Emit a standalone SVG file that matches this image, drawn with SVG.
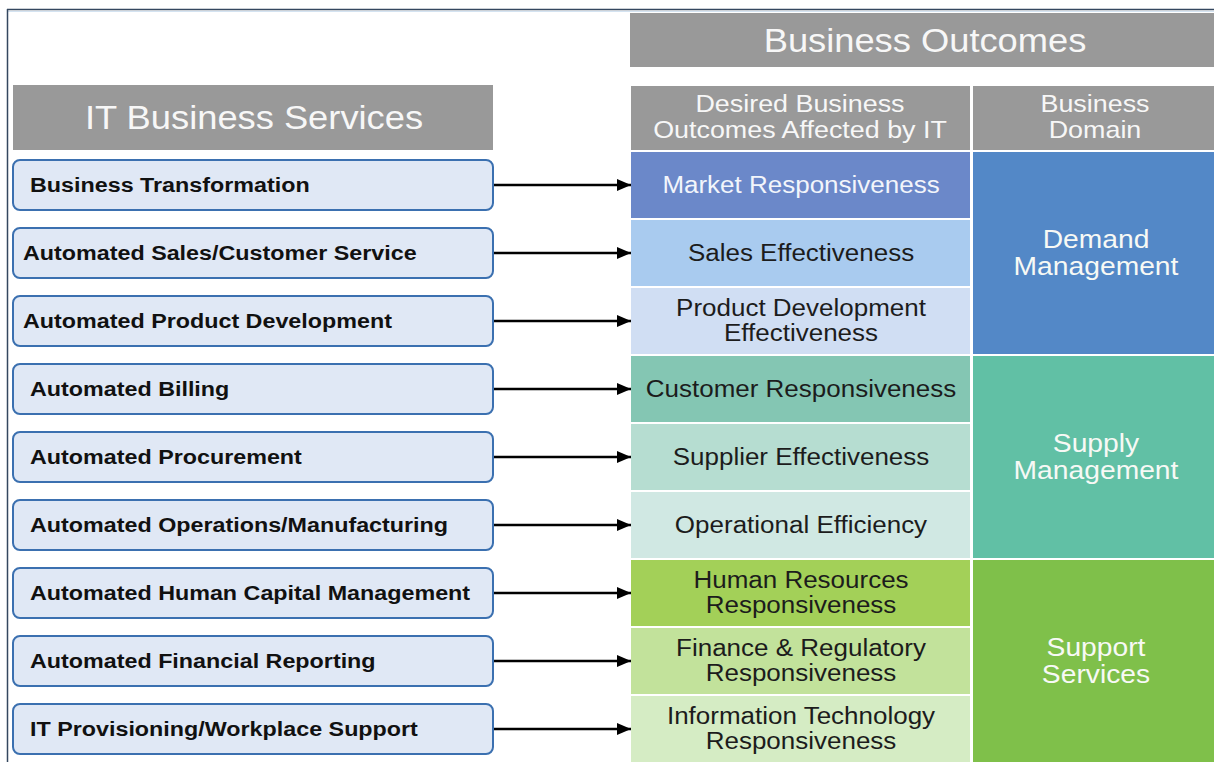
<svg xmlns="http://www.w3.org/2000/svg" width="1214" height="762" viewBox="0 0 1214 762">
  <defs>
    <marker id="arrowhead" viewBox="0 0 14 12" refX="14" refY="6" markerWidth="14" markerHeight="12" markerUnits="userSpaceOnUse" orient="auto">
      <path d="M0,0 L14,6 L0,12 Z" fill="#000"/>
    </marker>
    <style>
      text { font-family: "Liberation Sans", Arial, sans-serif; }
      .hdr { fill: #999999; }
      .hdr-text { fill: #f7f7f7; text-anchor: middle; }
      .big { font-size: 33px; }
      .col { font-size: 24px; }
      .svc rect { fill: #e0e8f5; stroke: #3b70b0; stroke-width: 2; }
      .svc text { font-size: 21px; font-weight: bold; fill: #111; }
      .out text { font-size: 23px; fill: #1c1c1c; text-anchor: middle; }
      .dom text { font-size: 25px; fill: #f7f9f5; text-anchor: middle; }
      .conn line { stroke: #000; stroke-width: 2.5; marker-end: url(#arrowhead); }
    </style>
  </defs>

  <rect width="1214" height="762" fill="#ffffff"/>

  <!-- page frame -->
  <line x1="7" y1="9.5" x2="1214" y2="9.5" stroke="#34475f" stroke-width="1.5"/>
  <line x1="7" y1="11.5" x2="1214" y2="11.5" stroke="#d4e3f1" stroke-width="1"/>
  <line x1="7.5" y1="9" x2="7.5" y2="762" stroke="#34475f" stroke-width="1.5"/>

  <!-- headers -->
  <g id="hdr-outcomes">
    <rect class="hdr" x="630" y="13" width="584" height="54"/>
    <text class="hdr-text big" transform="translate(925 52) scale(1.1 1)">Business Outcomes</text>
  </g>
  <g id="hdr-services">
    <rect class="hdr" x="13" y="85" width="480" height="65"/>
    <text class="hdr-text big" transform="translate(254 129) scale(1.1 1)">IT Business Services</text>
  </g>
  <g id="hdr-desired">
    <rect class="hdr" x="631" y="86" width="339" height="64"/>
    <text class="hdr-text col" transform="translate(800 112) scale(1.12 1)">Desired Business</text>
    <text class="hdr-text col" transform="translate(800 138) scale(1.12 1)">Outcomes Affected by IT</text>
  </g>
  <g id="hdr-domain">
    <rect class="hdr" x="973" y="86" width="241" height="64"/>
    <text class="hdr-text col" transform="translate(1095 112) scale(1.12 1)">Business</text>
    <text class="hdr-text col" transform="translate(1095 138) scale(1.12 1)">Domain</text>
  </g>

  <!-- IT business services -->
  <g id="svc-1" class="svc">
    <rect x="13" y="160" width="480" height="50" rx="7"/>
    <text transform="translate(30 192) scale(1.11 1)">Business Transformation</text>
  </g>
  <g id="svc-2" class="svc">
    <rect x="13" y="228" width="480" height="50" rx="7"/>
    <text transform="translate(23 260) scale(1.11 1)">Automated Sales/Customer Service</text>
  </g>
  <g id="svc-3" class="svc">
    <rect x="13" y="296" width="480" height="50" rx="7"/>
    <text transform="translate(23 328) scale(1.11 1)">Automated Product Development</text>
  </g>
  <g id="svc-4" class="svc">
    <rect x="13" y="364" width="480" height="50" rx="7"/>
    <text transform="translate(30 396) scale(1.11 1)">Automated Billing</text>
  </g>
  <g id="svc-5" class="svc">
    <rect x="13" y="432" width="480" height="50" rx="7"/>
    <text transform="translate(30 464) scale(1.11 1)">Automated Procurement</text>
  </g>
  <g id="svc-6" class="svc">
    <rect x="13" y="500" width="480" height="50" rx="7"/>
    <text transform="translate(30 532) scale(1.11 1)">Automated Operations/Manufacturing</text>
  </g>
  <g id="svc-7" class="svc">
    <rect x="13" y="568" width="480" height="50" rx="7"/>
    <text transform="translate(30 600) scale(1.11 1)">Automated Human Capital Management</text>
  </g>
  <g id="svc-8" class="svc">
    <rect x="13" y="636" width="480" height="50" rx="7"/>
    <text transform="translate(30 668) scale(1.11 1)">Automated Financial Reporting</text>
  </g>
  <g id="svc-9" class="svc">
    <rect x="13" y="704" width="480" height="50" rx="7"/>
    <text transform="translate(30 736) scale(1.11 1)">IT Provisioning/Workplace Support</text>
  </g>

  <!-- desired business outcomes -->
  <g id="out-1" class="out">
    <rect x="631" y="152" width="339" height="66" fill="#6b88c9"/>
    <text transform="translate(801 193) scale(1.13 1)" style="fill:#f2f5fb">Market Responsiveness</text>
  </g>
  <g id="out-2" class="out">
    <rect x="631" y="220" width="339" height="66" fill="#a9cbef"/>
    <text transform="translate(801 261) scale(1.13 1)">Sales Effectiveness</text>
  </g>
  <g id="out-3" class="out">
    <rect x="631" y="288" width="339" height="66" fill="#d0def3"/>
    <text transform="translate(801 316) scale(1.13 1)">Product Development</text>
    <text transform="translate(801 341) scale(1.13 1)">Effectiveness</text>
  </g>
  <g id="out-4" class="out">
    <rect x="631" y="356" width="339" height="66" fill="#84c6b3"/>
    <text transform="translate(801 397) scale(1.13 1)">Customer Responsiveness</text>
  </g>
  <g id="out-5" class="out">
    <rect x="631" y="424" width="339" height="66" fill="#b6ddd1"/>
    <text transform="translate(801 465) scale(1.13 1)">Supplier Effectiveness</text>
  </g>
  <g id="out-6" class="out">
    <rect x="631" y="492" width="339" height="66" fill="#d0e8e3"/>
    <text transform="translate(801 533) scale(1.13 1)">Operational Efficiency</text>
  </g>
  <g id="out-7" class="out">
    <rect x="631" y="560" width="339" height="66" fill="#a3d058"/>
    <text transform="translate(801 588) scale(1.13 1)">Human Resources</text>
    <text transform="translate(801 613) scale(1.13 1)">Responsiveness</text>
  </g>
  <g id="out-8" class="out">
    <rect x="631" y="628" width="339" height="66" fill="#c2e29b"/>
    <text transform="translate(801 656) scale(1.13 1)">Finance &amp; Regulatory</text>
    <text transform="translate(801 681) scale(1.13 1)">Responsiveness</text>
  </g>
  <g id="out-9" class="out">
    <rect x="631" y="696" width="339" height="66" fill="#d5ecc4"/>
    <text transform="translate(801 724) scale(1.13 1)">Information Technology</text>
    <text transform="translate(801 749) scale(1.13 1)">Responsiveness</text>
  </g>

  <!-- business domains -->
  <g id="dom-demand" class="dom">
    <rect x="973" y="152" width="241" height="202" fill="#5388c7"/>
    <text transform="translate(1096 248) scale(1.13 1)">Demand</text>
    <text transform="translate(1096 275) scale(1.13 1)">Management</text>
  </g>
  <g id="dom-supply" class="dom">
    <rect x="973" y="356" width="241" height="202" fill="#61c0a5"/>
    <text transform="translate(1096 452) scale(1.13 1)">Supply</text>
    <text transform="translate(1096 479) scale(1.13 1)">Management</text>
  </g>
  <g id="dom-support" class="dom">
    <rect x="973" y="560" width="241" height="202" fill="#7fc04a"/>
    <text transform="translate(1096 656) scale(1.13 1)">Support</text>
    <text transform="translate(1096 683) scale(1.13 1)">Services</text>
  </g>

  <!-- connectors: service to outcome -->
  <g id="connectors" class="conn">
    <line x1="494" y1="185" x2="631" y2="185"/>
    <line x1="494" y1="253" x2="631" y2="253"/>
    <line x1="494" y1="321" x2="631" y2="321"/>
    <line x1="494" y1="389" x2="631" y2="389"/>
    <line x1="494" y1="457" x2="631" y2="457"/>
    <line x1="494" y1="525" x2="631" y2="525"/>
    <line x1="494" y1="593" x2="631" y2="593"/>
    <line x1="494" y1="661" x2="631" y2="661"/>
    <line x1="494" y1="729" x2="631" y2="729"/>
  </g>
</svg>
